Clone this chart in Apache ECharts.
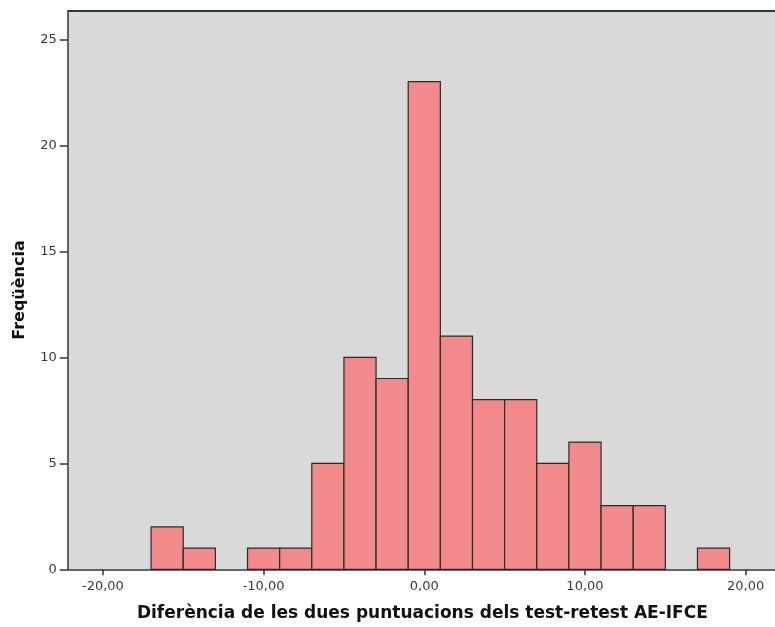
<!DOCTYPE html>
<html>
<head>
<meta charset="utf-8">
<script src="https://cdn.jsdelivr.net/npm/echarts@6/dist/echarts.min.js"></script>
<style>html,body{margin:0;padding:0;background:#fff}#c{width:775px;height:627px}</style>
</head>
<body>
<div id="c"></div>
<script>
// Histogram bins (width 2) and frequencies
var binStarts = [-17,-15,-13,-11,-9,-7,-5,-3,-1,1,3,5,7,9,11,13,15,17];
var binWidth = 2;
var counts = [2,1,0,1,1,5,10,9,23,11,8,8,5,6,3,3,0,1];
var xTickValues = [-20,-10,0,10,20];
var yTickValues = [0,5,10,15,20,25];
var xTitle = 'Diferència de les dues puntuacions dels test-retest AE-IFCE';
var yTitle = 'Freqüència';

var data = binStarts.map(function(s,i){ return [s, s+binWidth, counts[i]]; });

var chart = echarts.init(document.getElementById('c'), null, {renderer:'canvas'});
var labelColor = '#2e3d45';
var fontFam = '"DejaVu Sans", "Open Sans", sans-serif';
chart.setOption({
  animation:false,
  grid:{left:67.7, top:10.7, right:-2, bottom:57.7, show:true, backgroundColor:'#d9d9d9', borderWidth:0,
    containLabel:false, outerBoundsMode:'none'},
  xAxis:{
    type:'value', min:-22.19, max:21.95,
    splitLine:{show:false},
    axisLine:{show:true, onZero:false, lineStyle:{color:'#2b3a40', width:1.5}},
    axisTick:{show:true, length:6, lineStyle:{color:'#2b3a40', width:1.5}, customValues:xTickValues},
    axisLabel:{customValues:xTickValues, color:labelColor, fontSize:13, fontFamily:fontFam, margin:11,
      formatter:function(v){ return v.toFixed(2).replace('.',','); }},
    name:xTitle, nameLocation:'middle', nameGap:36,
    nameTextStyle:{fontSize:17, fontWeight:'bold', color:'#111', fontFamily:fontFam}
  },
  yAxis:{
    type:'value', min:0, max:26.35,
    splitLine:{show:false},
    axisLine:{show:true, onZero:false, lineStyle:{color:'#2b3a40', width:1.5}},
    axisTick:{show:true, length:8, lineStyle:{color:'#2b3a40', width:1.5}, customValues:yTickValues},
    axisLabel:{customValues:yTickValues, color:labelColor, fontSize:13, fontFamily:fontFam, margin:11},
    name:yTitle, nameLocation:'middle', nameGap:40,
    nameTextStyle:{fontSize:16, fontWeight:'bold', color:'#111', fontFamily:fontFam}
  },
  series:[{
    type:'custom',
    data:data,
    renderItem:function(params, api){
      var h = api.value(2);
      if (!h) return null;
      var p0 = api.coord([api.value(0), 0]);
      var p1 = api.coord([api.value(1), h]);
      return {type:'rect', shape:{x:p0[0], y:p1[1], width:p1[0]-p0[0], height:p0[1]-p1[1]},
        style:{fill:'#f28a8c', stroke:'#2a2a2a', lineWidth:1.2}};
    }
  }],
  graphic:[{type:'line', shape:{x1:67.7, y1:11, x2:775, y2:11}, style:{stroke:'#2b3a40', lineWidth:1.8}, z:100}]
});
</script>
</body>
</html>
